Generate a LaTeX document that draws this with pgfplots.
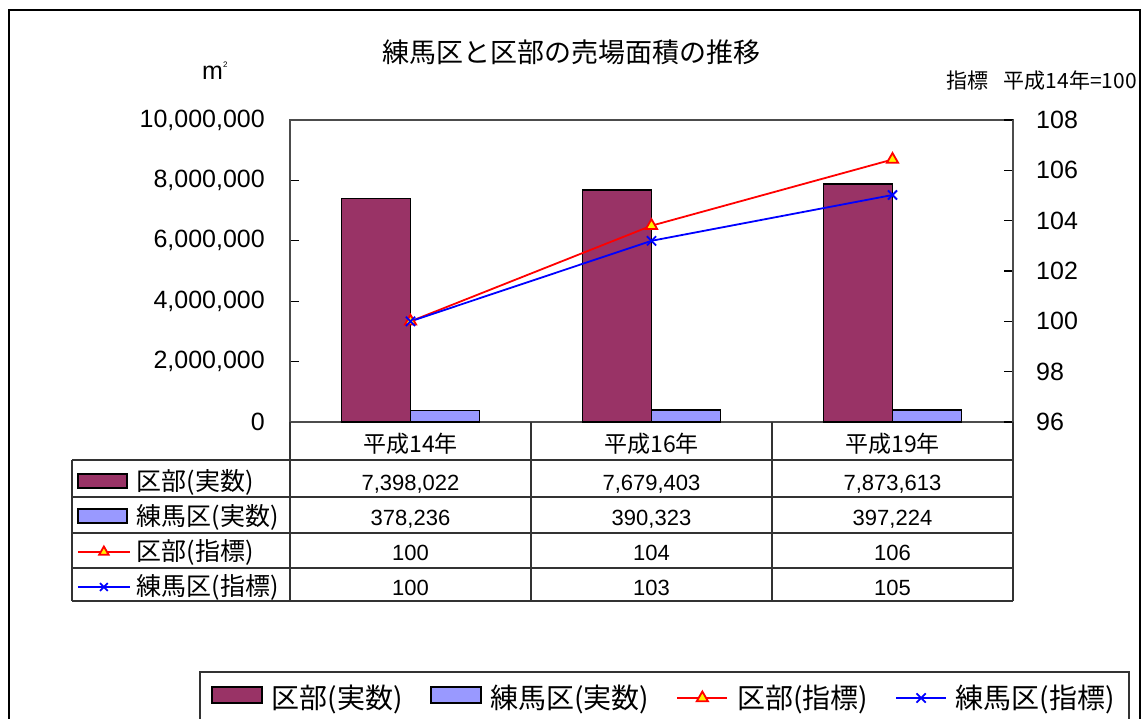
\documentclass[border=0pt]{standalone}
\usepackage{pgfplots}
\pgfplotsset{compat=1.18}
\usepackage{fontspec}
\setmainfont{Liberation Sans}
\newfontfamily\jp{Noto Sans CJK JP}
\definecolor{barA}{HTML}{993366}
\definecolor{barB}{HTML}{9999FF}
\pgfplotsset{
  lineleg/.style={legend image code/.code={\draw[mark repeat=2,mark phase=2,##1] plot coordinates {(0pt,-1pt)(25pt,-1pt)(50pt,-1pt)};}},
  lineleg tab/.style={legend image code/.code={\draw[mark repeat=2,mark phase=2,##1] plot coordinates {(0pt,1pt)(26pt,1pt)(52pt,1pt)};}},
}
\begin{document}
\begin{tikzpicture}
% outer frame
\draw[line width=2pt] (9pt,-740pt) -- (9pt,-10pt) -- (1140pt,-10pt) -- (1140pt,-740pt);
% title and labels
\node[font=\jp\fontsize{27}{32}\selectfont,anchor=base] at (571pt,-63pt) {練馬区と区部の売場面積の推移};
\node[font=\fontsize{25}{28}\selectfont,anchor=base west,inner sep=0pt] at (202pt,-80pt) {m\raisebox{12pt}{\fontsize{8}{8}\selectfont 2}};
\node[font=\jp\fontsize{21}{24}\selectfont,anchor=base east,inner sep=0pt] at (1137pt,-89pt) {指標\hspace{0.75em}平成14年=100};

% bars (left axis)
\begin{axis}[
  scale only axis, width=723pt, height=302pt,
  at={(290pt,-422pt)}, anchor=south west,
  xmin=-0.5, xmax=2.5, ymin=0, ymax=10000000,
  ybar=0pt, bar width=69pt,
  axis line style={black!70, line width=1.2pt},
  xtick={0,1,2},
  xticklabels={平成14年,平成16年,平成19年},
  xtick style={draw=none},
  xticklabel style={font=\jp\fontsize{23}{27}\selectfont, anchor=base, inner sep=0pt, yshift=-21pt},
  ytick={0,2000000,4000000,6000000,8000000,10000000},
  ytick pos=left,
  major tick length=9pt,
  tick style={black, line width=1.2pt},
  scaled y ticks=false,
  yticklabel style={font=\fontsize{25}{30}\selectfont, inner sep=0pt, xshift=-25pt,
    /pgf/number format/.cd, fixed, precision=0, 1000 sep={,}, assume math mode=true},
]
\addplot[fill=barA, draw=black, line width=1.8pt] coordinates {(0,7398022) (1,7679403) (2,7873613)};
\addplot[fill=barB, draw=black, line width=1.8pt] coordinates {(0,378236) (1,390323) (2,397224)};
\end{axis}

% lines (right axis) + bottom legend
\begin{axis}[
  scale only axis, width=723pt, height=302pt,
  at={(290pt,-422pt)}, anchor=south west,
  xmin=-0.5, xmax=2.5, ymin=96, ymax=108,
  axis x line=none, axis y line*=right,
  axis line style={black!70, line width=1.2pt},
  ytick={96,98,100,102,104,106,108},
  major tick length=9pt,
  tick style={black, line width=1.2pt},
  tick align=inside,
  yticklabel style={font=\fontsize{25}{30}\selectfont, inner sep=0pt, xshift=23pt, anchor=west,
    /pgf/number format/assume math mode=true},
  legend columns=4,
  legend cell align=left,
  legend style={draw=none, fill=none, inner sep=0pt, outer sep=0pt,
    at={(rel axis cs:-0.10927,-0.9106)}, anchor=west,
    font=\jp\fontsize{28}{32}\selectfont,
    nodes={inner sep=0pt},
    /tikz/every odd column/.append style={column sep=9pt},
    /tikz/every even column/.append style={column sep=27pt}},
]
\addlegendimage{legend image code/.code={\draw[fill=barA,draw=black,line width=1.8pt] (0pt,-6pt) rectangle (50pt,10pt);}}
\addlegendimage{legend image code/.code={\draw[fill=barB,draw=black,line width=1.8pt] (0pt,-6pt) rectangle (50pt,10pt);}}
\addplot[red, line width=1.8pt, mark=triangle*, mark size=6.5pt,
  mark options={fill=yellow, draw=red, line width=1.8pt}, lineleg]
  coordinates {(0,100) (1,103.80) (2,106.43)};
\addplot[blue, line width=1.8pt, mark=x, mark size=6.5pt,
  mark options={line width=1.8pt}, lineleg]
  coordinates {(0,100) (1,103.20) (2,105.02)};
\legend{区部(実数),練馬区(実数),区部(指標),練馬区(指標)}
\end{axis}

% legend keys of the data table
\begin{axis}[
  scale only axis, width=723pt, height=302pt,
  at={(290pt,-422pt)}, anchor=south west,
  hide axis, xmin=0, xmax=1, ymin=0, ymax=1,
  legend columns=1,
  legend cell align=left,
  legend style={draw=none, fill=none, inner sep=0pt, outer sep=0pt,
    at={(rel axis cs:-0.29461,-0.15232)}, anchor=north west,
    font=\jp\fontsize{25}{30}\selectfont,
    nodes={inner sep=0pt, text height=22pt, text depth=8pt},
    row sep=5pt,
    /tikz/every odd column/.append style={column sep=6pt}},
]
\addlegendimage{legend image code/.code={\draw[fill=barA,draw=black,line width=1.8pt] (0pt,-5pt) rectangle (49pt,9pt);}}
\addlegendimage{legend image code/.code={\draw[fill=barB,draw=black,line width=1.8pt] (0pt,-5pt) rectangle (49pt,9pt);}}
\addlegendimage{red, line width=1.8pt, mark=triangle*, mark size=5.5pt,
  mark options={fill=yellow, draw=red, line width=1.8pt}, lineleg tab}
\addlegendimage{blue, line width=1.8pt, mark=x, mark size=5.5pt, lineleg tab}
\legend{区部(実数),練馬区(実数),区部(指標),練馬区(指標)}
\end{axis}

% data table grid
\begin{scope}[line width=1.3pt, draw=black!80]
\draw (72pt,-460pt) -- (1013pt,-460pt);
\draw (72pt,-497pt) -- (1013pt,-497pt);
\draw (72pt,-533pt) -- (1013pt,-533pt);
\draw (72pt,-568pt) -- (1013pt,-568pt);
\draw (72pt,-601pt) -- (1013pt,-601pt);
\draw (72pt,-460pt) -- (72pt,-601pt);
\draw (290pt,-422pt) -- (290pt,-601pt);
\draw (531pt,-422pt) -- (531pt,-601pt);
\draw (772pt,-422pt) -- (772pt,-601pt);
\draw (1013pt,-422pt) -- (1013pt,-601pt);
\end{scope}
\begin{scope}[every node/.style={font=\fontsize{22}{26}\selectfont, anchor=base, inner sep=0pt}]
\node at (410.5pt,-490pt) {7,398,022};
\node at (651.5pt,-490pt) {7,679,403};
\node at (892.5pt,-490pt) {7,873,613};
\node at (410.5pt,-525pt) {378,236};
\node at (651.5pt,-525pt) {390,323};
\node at (892.5pt,-525pt) {397,224};
\node at (410.5pt,-560pt) {100};
\node at (651.5pt,-560pt) {104};
\node at (892.5pt,-560pt) {106};
\node at (410.5pt,-595pt) {100};
\node at (651.5pt,-595pt) {103};
\node at (892.5pt,-595pt) {105};
\end{scope}

% bottom legend box
\draw[line width=1.3pt, black!80] (200pt,-740pt) -- (200pt,-672pt) -- (1129pt,-672pt) -- (1129pt,-740pt);

\pgfresetboundingbox
\useasboundingbox (0pt,0pt) rectangle (1143pt,-719pt);
\end{tikzpicture}
\end{document}
